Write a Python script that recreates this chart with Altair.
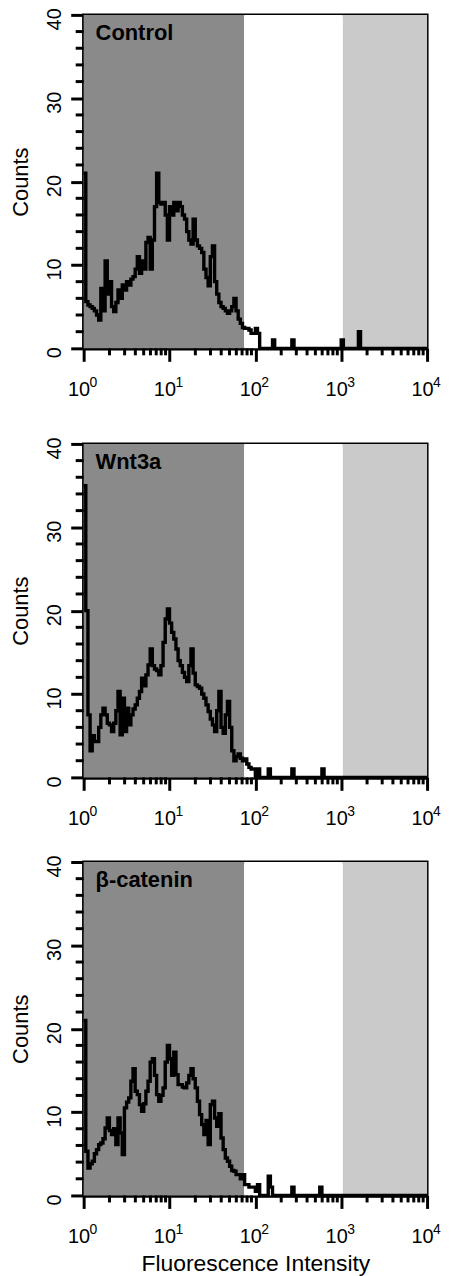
import altair as alt
import pandas as pd

# ---------------- data ----------------
CH_PER_DECADE = 40          # histogram channels per decade
N_CH = 160                  # 4 decades

panel_names = ["Control", "Wnt3a", "β-catenin"]

control_counts = [21, 5.6, 5.2, 5.0, 4.8, 4.5, 4.0, 3.4, 7.2, 4.5, 10.5, 6.5, 8.0, 5.0, 4.4,
                  5.5, 7.0, 6.0, 7.6, 7.0, 8.0, 7.6, 8.3, 8.6, 9.5, 11.0, 9.0, 10.5, 9.5, 12.7,
                  13.3, 9.5, 13.0, 17.0, 21.0, 17.5, 17.3, 17.5, 16.0, 13.0, 17.0, 16.0, 17.5,
                  16.5, 17.5, 17.0, 16.0, 15.5, 14.0, 13.0, 12.5, 15.5, 13.0, 12.3, 12.0, 11.5,
                  9.5, 8.5, 7.5, 11.0, 12.3, 8.0, 6.5, 5.5, 5.0, 4.8, 4.5, 4.2, 4.5, 5.0, 6.0,
                  4.5, 3.5, 3.0, 2.5, 2.4, 2.4, 2.2, 1.8, 1.8, 2.4, 1.8]
control_spikes = [(88, 1), (97, 1), (120, 1), (128, 2)]

wnt3a_counts = [35, 20, 7.5, 3.2, 5.0, 4.3, 4.3, 6.0, 7.5, 8.3, 7.5, 6.5, 6.3, 5.5, 6.5, 8.0,
                10.3, 5.1, 9.5, 5.5, 8.3, 6.3, 7.5, 8.2, 8.7, 9.5, 10.3, 11.9, 11.0, 12.3, 13.5,
                15.4, 13.4, 13.0, 12.8, 12.3, 13.4, 16.2, 19.0, 20.2, 18.5, 17.4, 16.6, 15.4,
                14.0, 13.4, 12.6, 12.0, 11.5, 13.4, 15.4, 12.5, 11.1, 10.9, 10.7, 10.0, 9.5, 8.7,
                7.9, 7.0, 6.3, 5.5, 8.0, 10.3, 6.0, 5.3, 7.5, 9.1, 6.0, 3.2, 2.0, 2.5, 2.8, 2.3,
                2.0, 2.2, 1.6, 1.2, 1, 1, 0, 1]
wnt3a_spikes = [(86, 1), (97, 1), (111, 1)]

bcat_counts = [21, 5.3, 3.3, 3.8, 4.1, 5.0, 5.5, 6.1, 6.3, 6.8, 8.1, 9.3, 7.8, 7.3, 8.0, 6.1,
               9.3, 7.5, 4.9, 10.5, 11.2, 11.7, 13.7, 15.2, 12.5, 12.1, 10.9, 10.1, 11.0, 12.5,
               13.7, 16.0, 16.4, 14.4, 12.1, 11.3, 12.0, 12.9, 16.0, 18.0, 16.4, 14.4, 17.2,
               14.5, 13.3, 13.3, 13.0, 12.9, 13.5, 14.4, 15.2, 14.0, 12.9, 11.3, 9.7, 8.5, 7.3,
               9.0, 6.1, 10.9, 11.3, 9.3, 8.3, 9.8, 6.9, 5.5, 4.5, 4.1, 3.5, 3.0, 2.9, 2.5, 2.5,
               2.0, 2.5, 1.3, 1.3, 1.0, 1.0, 1.0, 0.5, 1.3]
bcat_spikes = [(86, 2.3), (87, 1), (97, 1), (110, 1)]

# gate regions on the fluorescence axis
band_start = [1, 74, 1045]
band_end = [74, 1045, 10000]
band_kind = ["low", "mid", "high"]

decades = [1, 10, 100, 1000, 10000]
decade_exp = ["0", "1", "2", "3", "4"]
x_minor = [k * d for d in [1, 10, 100, 1000] for k in range(2, 10)]
y_major = [0, 10, 20, 30, 40]
y_minor = [v for v in range(2, 40, 2) if v % 10 != 0]

# ---------------- styling ----------------
W, H = 345, 335
FONT = "Liberation Sans, Arial, sans-serif"
DARK, LIGHT = "#8a8a8a", "#cacaca"

xscale = alt.Scale(type="log", domain=[1, 10000], nice=False)
yscale = alt.Scale(domain=[0, 40], nice=False, zero=False)


def panel(name, dense, spikes, xtitle):
    counts = [0.0] * (N_CH + 1)
    for i, v in enumerate(dense):
        counts[i] = v
    for i, v in spikes:
        counts[i] = v
    df = pd.DataFrame({"x": [10 ** (i / CH_PER_DECADE) for i in range(N_CH + 1)],
                       "count": counts})

    xaxis = alt.Axis(values=decades, labelExpr="'10'", labelAlign="right", labelOffset=6,
                     labelFlush=False, labelFont=FONT, labelFontSize=20, labelPadding=18,
                     tickSize=13, tickWidth=3, domainWidth=3.5, grid=False,
                     title=xtitle if xtitle else "", titleFont=FONT, titleFontSize=23,
                     titleFontWeight="normal", titlePadding=6)
    yaxis = alt.Axis(values=y_major, labelAngle=270, labelFont=FONT, labelFontSize=20,
                     labelPadding=6, labelOffset=4, tickSize=13, tickWidth=3, domainWidth=3.5,
                     grid=False, title="Counts",
                     titleFont=FONT, titleFontSize=22, titleFontWeight="normal",
                     titlePadding=12)

    bands = alt.Chart(pd.DataFrame({"a": band_start, "b": band_end, "k": band_kind})).mark_rect().encode(
        x=alt.X("a:Q", scale=xscale, axis=xaxis),
        x2="b:Q",
        y=alt.value(0), y2=alt.value(H),
        color=alt.Color("k:N", scale=alt.Scale(domain=band_kind, range=[DARK, "#ffffff", LIGHT]),
                        legend=None),
    )

    line = alt.Chart(df).mark_line(interpolate="step-after", color="black", strokeWidth=3.4,
                                   strokeJoin="miter").encode(
        x=alt.X("x:Q", scale=xscale, axis=xaxis),
        y=alt.Y("count:Q", scale=yscale, axis=yaxis),
    )

    xmin = alt.Chart(pd.DataFrame({"v": x_minor})).mark_rule(color="black", strokeWidth=3).encode(
        x=alt.X("v:Q", scale=xscale, axis=xaxis), y=alt.value(H), y2=alt.value(H + 7))
    ymin = alt.Chart(pd.DataFrame({"v": y_minor})).mark_rule(color="black", strokeWidth=3).encode(
        y=alt.Y("v:Q", scale=yscale, axis=yaxis), x=alt.value(-8), x2=alt.value(0))

    sup = alt.Chart(pd.DataFrame({"v": decades, "e": decade_exp})).mark_text(
        align="left", baseline="top", dx=6, font=FONT, fontSize=14, color="black").encode(
        x=alt.X("v:Q", scale=xscale, axis=xaxis), y=alt.value(H + 28), text="e:N")

    label = alt.Chart(pd.DataFrame({"t": [name]})).mark_text(
        align="left", baseline="top", font=FONT, fontSize=22, fontWeight="bold",
        color="black").encode(x=alt.value(12), y=alt.value(8), text="t:N")

    return alt.layer(bands, line, xmin, ymin, sup, label).properties(width=W, height=H)


p1 = panel(panel_names[0], control_counts, control_spikes, None)
p2 = panel(panel_names[1], wnt3a_counts, wnt3a_spikes, None)
p3 = panel(panel_names[2], bcat_counts, bcat_spikes, "Fluorescence Intensity")

chart = alt.vconcat(alt.vconcat(p1, p2, spacing=34), p3, spacing=23).configure(
    padding={"left": 0, "top": -5, "right": 0, "bottom": 0}
).configure_view(stroke="black", strokeWidth=3).configure_axis(
    domainColor="black", tickColor="black", labelColor="black", titleColor="black")

chart.save("out.html", embed_options={"renderer": "svg", "actions": False})
